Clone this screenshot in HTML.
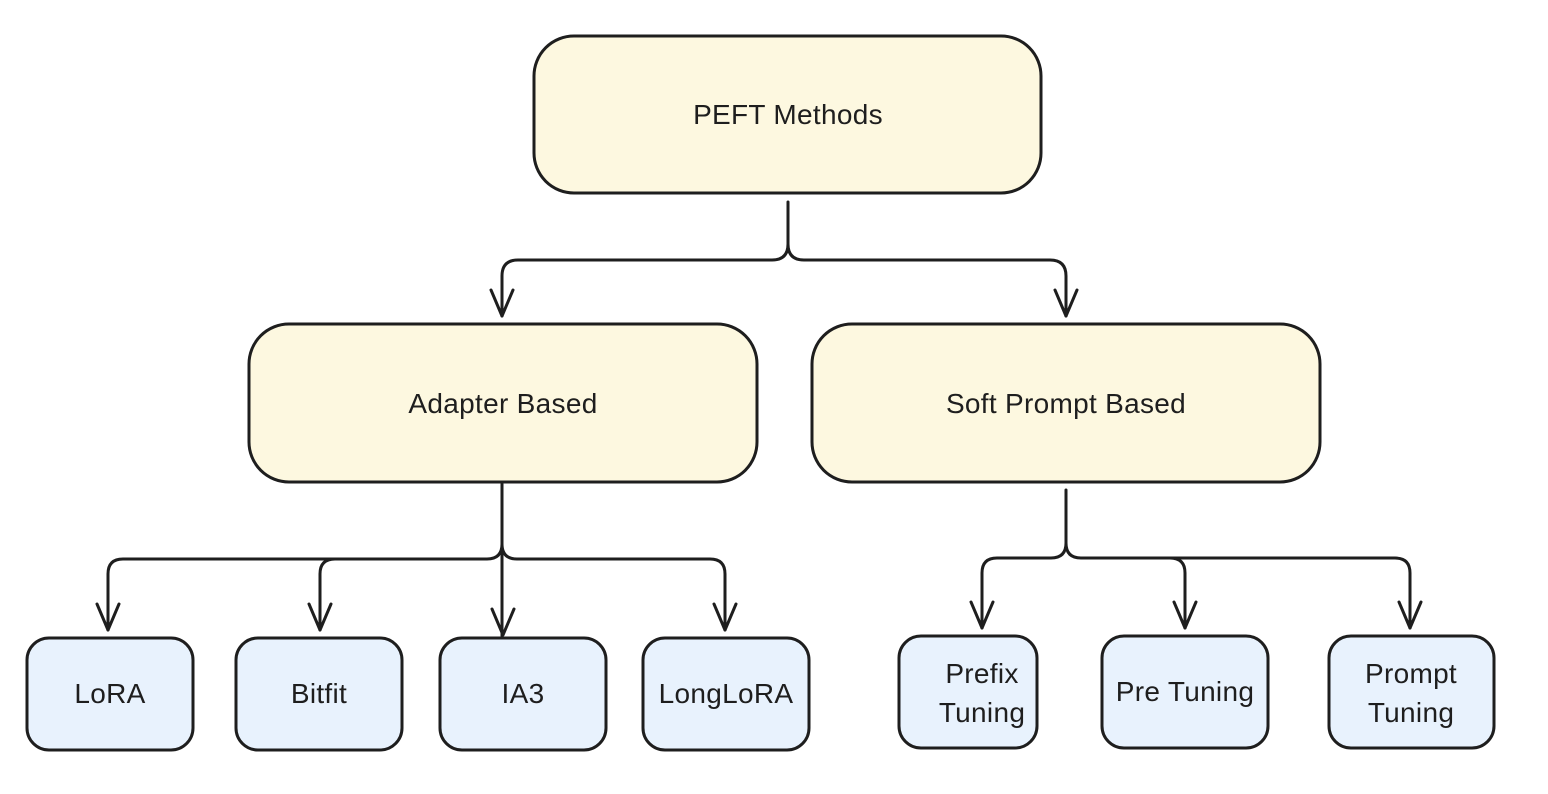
<!DOCTYPE html>
<html><head><meta charset="utf-8"><style>
html,body{margin:0;padding:0;background:#fff;}
svg{display:block;}
text{font-family:"Liberation Sans","DejaVu Sans",sans-serif;font-size:28px;fill:#1e1e1e;text-anchor:middle;letter-spacing:0.3px;}
</style></head><body>
<svg width="1548" height="794" viewBox="0 0 1548 794" xmlns="http://www.w3.org/2000/svg">
<g fill="none" stroke="#1e1e1e" stroke-width="3" stroke-linecap="round" stroke-linejoin="round">
<path d="M788 202 V244 Q788 260 772 260 H518 Q502 260 502 276 V316"/>
<path d="M788 244 Q788 260 804 260 H1050 Q1066 260 1066 276 V316"/>
<path d="M491 290 L502 316 L513 290"/>
<path d="M1055 290 L1066 316 L1077 290"/>
<path d="M502 484 V544 Q502 559 487 559 H123 Q108 559 108 574 V630"/>
<path d="M335 559 Q320 559 320 574 V630"/>
<path d="M502 544 Q502 559 517 559 H710 Q725 559 725 574 V630"/>
<path d="M502 544 V636"/>
<path d="M97 604 L108 630 L119 604"/>
<path d="M309 604 L320 630 L331 604"/>
<path d="M492 609 L503 635 L514 609"/>
<path d="M714 604 L725 630 L736 604"/>
<path d="M1066 490 V543 Q1066 558 1051 558 H997 Q982 558 982 573 V628"/>
<path d="M1066 543 Q1066 558 1081 558 H1395 Q1410 558 1410 573 V628"/>
<path d="M1170 558 Q1185 558 1185 573 V628"/>
<path d="M971 602 L982 628 L993 602"/>
<path d="M1174 602 L1185 628 L1196 602"/>
<path d="M1399 602 L1410 628 L1421 602"/>
</g>
<g stroke="#1e1e1e" stroke-width="3">
<rect x="534" y="36" width="507" height="157" rx="40" fill="#fdf8e0"/>
<rect x="249" y="324" width="508" height="158" rx="40" fill="#fdf8e0"/>
<rect x="812" y="324" width="508" height="158" rx="40" fill="#fdf8e0"/>
<rect x="27" y="638" width="166" height="112" rx="22" fill="#e8f2fd"/>
<rect x="236" y="638" width="166" height="112" rx="22" fill="#e8f2fd"/>
<rect x="440" y="638" width="166" height="112" rx="22" fill="#e8f2fd"/>
<rect x="643" y="638" width="166" height="112" rx="22" fill="#e8f2fd"/>
<rect x="899" y="636" width="138" height="112" rx="22" fill="#e8f2fd"/>
<rect x="1102" y="636" width="166" height="112" rx="22" fill="#e8f2fd"/>
<rect x="1329" y="636" width="165" height="112" rx="22" fill="#e8f2fd"/>
</g>
<text x="788" y="124">PEFT Methods</text>
<text x="503" y="413">Adapter Based</text>
<text x="1066" y="413">Soft Prompt Based</text>
<text x="110" y="703">LoRA</text>
<text x="319" y="703">Bitfit</text>
<text x="523" y="703">IA3</text>
<text x="726" y="703">LongLoRA</text>
<text x="982" y="683">Prefix</text>
<text x="982" y="722">Tuning</text>
<text x="1185" y="701">Pre Tuning</text>
<text x="1411" y="683">Prompt</text>
<text x="1411" y="722">Tuning</text>
</svg>
</body></html>
